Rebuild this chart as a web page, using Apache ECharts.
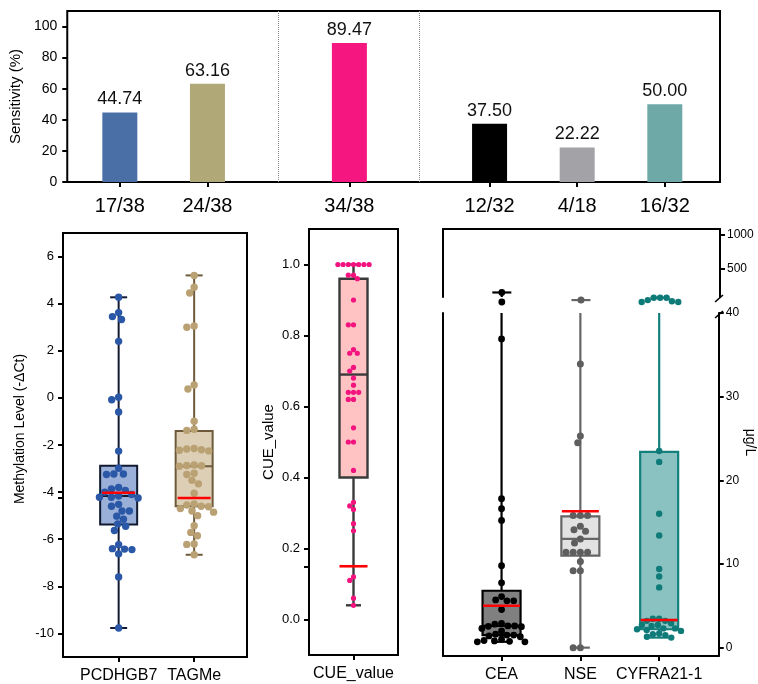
<!DOCTYPE html>
<html>
<head>
<meta charset="utf-8">
<script src="https://cdn.jsdelivr.net/npm/echarts@6/dist/echarts.min.js"></script>
<style>html,body{margin:0;padding:0;background:#fff}#c{width:758px;height:684px}</style>
</head>
<body>
<div id="c"></div>
<script>
// ================= DATA =================
// Top panel: sensitivity
const barLabels = ['17/38', '24/38', '34/38', '12/32', '4/18', '16/32'];
const barValues = [44.74, 63.16, 89.47, 37.50, 22.22, 50.00];
const barPos = [1, 2, 3.62, 5.22, 6.22, 7.22];
const sensTicks = [0, 20, 40, 60, 80, 100];

// Methylation level (-ΔCt)
const methCats = ['PCDHGB7', 'TAGMe'];
const pcdhgb7Values = [4.27, 3.62, 3.45, 3.33, 2.40, 0.03, -0.08, -0.60, -2.26, -2.99,
  -3.23, -3.23, -3.25, -3.80, -3.87, -3.93, -4.00, -4.10, -4.17, -4.22,
  -4.22, -4.25, -4.52, -4.60, -4.80, -4.80, -5.02, -5.15, -5.35, -5.45,
  -5.63, -6.23, -6.40, -6.42, -6.44, -6.62, -7.60, -9.77];
const tagmeValues = [5.20, 4.70, 4.45, 3.05, 3.00, 0.55, 0.38, -0.99, -1.33, -1.38,
  -2.15, -2.17, -2.20, -2.22, -2.25, -2.85, -2.87, -2.88, -2.90, -3.20,
  -3.25, -3.50, -3.65, -4.05, -4.50, -4.55, -4.60, -4.62, -4.70, -4.80,
  -4.85, -5.00, -5.43, -5.71, -5.85, -6.20, -6.22, -6.66];
const methBoxStats = [[-9.77, -5.38, -4.17, -2.88, 4.27], [-6.66, -4.60, -2.90, -1.41, 5.20]]; // min,Q1,median,Q3,max
const methCutoffs = [-4.03, -4.25];
const methTicks = [-10, -8, -6, -4, -2, 0, 2, 4, 6];
const methExtraTicks = [-4.25];

// CUE value
const cueCats = ['CUE_value'];
const cueValues = [1.00, 1.00, 1.00, 1.00, 1.00, 1.00, 1.00, 0.97, 0.97, 0.96,
  0.90, 0.83, 0.83, 0.76, 0.75, 0.75, 0.71, 0.70, 0.68, 0.66,
  0.64, 0.64, 0.64, 0.62, 0.62, 0.54, 0.50, 0.50, 0.42, 0.33,
  0.32, 0.31, 0.27, 0.25, 0.12, 0.11, 0.06, 0.04];
const cueBoxStats = [[0.04, 0.40, 0.69, 0.96, 1.00]];
const cueCutoffs = [0.15];
const cueTicks = [0, 0.2, 0.4, 0.6, 0.8, 1.0];
const cueExtraTicks = [0.15];

// Tumour markers (μg/L)
const tmCats = ['CEA', 'NSE', 'CYFRA21-1'];
const ceaValues = [310, 256, 36.9, 17.8, 16.6, 15.2, 9.8, 7.75, 6.1, 5.7,
  5.6, 5.6, 4.55, 2.9, 2.8, 2.6, 2.6, 2.55, 2.5, 2.3,
  2.0, 1.6, 1.5, 1.5, 1.4, 1.3, 1.0, 0.85, 0.8, 0.75, 0.7, 0.7];
const nseValues = [266, 33.9, 25.3, 24.5, 15.8, 15.8, 15.8, 14.5, 14.1, 13.9,
  13.0, 12.5, 11.4, 11.4, 11.4, 11.4, 10.3, 9.2, 9.2, 0, 0];
const cyfraValues = [279, 256, 256, 260, 279, 266, 279, 23.5, 22.2, 16.0,
  13.4, 9.4, 8.5, 7.2, 3.45, 3.45, 3.2, 3.2, 2.9, 2.7,
  2.7, 2.6, 2.3, 2.3, 2.2, 2.1, 2.0, 1.7, 1.6, 1.5, 1.3, 1.2];
const tmBoxStats = [[0.70, 1.50, 2.60, 6.80, 310], [0, 11.0, 13.0, 15.7, 266], [1.2, 2.2, 3.25, 23.4, 279]];
const tmCutoffs = [5.0, 16.3, 3.3];
const tmTicksLow = [0, 10, 20, 30, 40];
const tmTicksHigh = [500, 1000];
const tmBreak = 40;       // top of lower segment
const tmHighRange = [283, 1113];

// ================= STYLE / LAYOUT =================
const FONT = '"Liberation Sans", Arial, Helvetica, sans-serif';
const barColors = ['#4a6fa6', '#b1a877', '#f5177f', '#000000', '#a3a2a7', '#6ea9a8'];
const methStyle = { fill: ['#9bb0d8', '#dccfb5'], stroke: ['#111a30', '#6e5a3b'], dot: ['#2b58a6', '#baa173'], r: [3.7, 3.7], d: [7.4, 7.4] };
const cueStyle = { fill: ['#ffc3c3'], stroke: ['#3a3a3a'], dot: ['#f3137f'], r: [2.6], d: [5.2] };
const tmStyle = { fill: ['#808080', '#e2e2e2', '#8ac2c1'], stroke: ['#000000', '#666666', '#14807e'], dot: ['#000000', '#5e5e5e', '#0f7b79'], r: [3.4, 3.5, 3.2], d: [6.8, 7.2, 6.4] };

const G = {
  bar:    { left: 63,  top: 11,  width: 657, height: 171 },
  meth:   { left: 63,  top: 233, width: 184, height: 424 },
  cue:    { left: 309, top: 229, width: 89,  height: 426 },
  tmLow:  { left: 443, top: 313, width: 277, height: 343 },
  tmHigh: { left: 443, top: 229, width: 277, height: 68 }
};
const LS = { color: '#000', width: 2 };
const lg = Math.log10;

function L(x1, y1, x2, y2, c, w) {
  return { type: 'line', shape: { x1, y1, x2, y2 }, style: { stroke: c, lineWidth: w } };
}

function boxRenderer(style, o) {
  return function (params, api) {
    const i = params.dataIndex;
    const cs = params.coordSys;
    const top = cs.y, bot = cs.y + cs.height;
    const inside = y => y >= top - 0.5 && y <= bot + 0.5;
    const clamp = y => Math.max(top, Math.min(bot, y));
    const x = api.value(0);
    const ys = [1, 2, 3, 4, 5].map(k => api.coord([x, api.value(k)])[1]);
    const cx = api.coord([x, api.value(1)])[0];
    const [yMin, yQ1, yMed, yQ3, yMax] = ys;
    const c = style.stroke[i], w = o.lw;
    const ch = [];
    ch.push(L(cx, clamp(yQ1), cx, clamp(yMin), c, w));
    ch.push(L(cx, clamp(yQ3), cx, clamp(yMax), c, w));
    if (inside(yMin)) ch.push(L(cx - o.cap / 2, yMin, cx + o.cap / 2, yMin, c, w));
    if (inside(yMax)) ch.push(L(cx - o.cap / 2, yMax, cx + o.cap / 2, yMax, c, w));
    ch.push({ type: 'rect', shape: { x: cx - o.box / 2, y: yQ3, width: o.box, height: yQ1 - yQ3 },
      style: { fill: style.fill[i], stroke: c, lineWidth: w } });
    ch.push(L(cx - o.box / 2, yMed, cx + o.box / 2, yMed, c, w));
    return { type: 'group', children: ch };
  };
}
function highWhiskerRenderer(style, o) {
  return function (params, api) {
    const i = params.dataIndex;
    const cs = params.coordSys;
    const bot = cs.y + cs.height;
    const pt = api.coord([api.value(0), api.value(1)]);
    const c = style.stroke[i];
    const ch = [];
    if (pt[1] < bot) ch.push(L(pt[0], bot, pt[0], pt[1], c, o.lw));
    ch.push(L(pt[0] - o.cap / 2, pt[1], pt[0] + o.cap / 2, pt[1], c, o.lw));
    return { type: 'group', children: ch };
  };
}
function cutoffRenderer(o) {
  return function (params, api) {
    const pt = api.coord([api.value(0), api.value(1)]);
    return L(pt[0] - o.w / 2, pt[1], pt[0] + o.w / 2, pt[1], '#ff0000', 2.6);
  };
}
function dotRenderer(style) {
  return function (params, api) {
    const pt = api.coord([api.value(0), api.value(1)]);
    const ci = api.value(3);
    return { type: 'circle', shape: { cx: pt[0] + api.value(2), cy: pt[1], r: style.r[ci] },
      style: { fill: style.dot[ci] } };
  };
}

function valueAxis(extra) {
  return Object.assign({
    type: 'value',
    axisLine: { show: false, onZero: false, lineStyle: LS },
    splitLine: { show: false },
    axisTick: { show: false },
    axisLabel: { show: false }
  }, extra);
}
function ticks(vals, len) {
  return { show: true, customValues: vals, length: len || 5, lineStyle: LS };
}
function labels(vals, size, margin, fmt) {
  const o = { show: true, customValues: vals, fontSize: size, color: '#000', margin: margin, fontFamily: FONT };
  if (fmt) o.formatter = fmt;
  return o;
}
const catIdx = cats => cats.map((_, i) => i + 1);

const sepLines = [(barPos[1] + barPos[2]) / 2, (barPos[2] + barPos[3]) / 2];

const option = {
  animation: false,
  backgroundColor: '#fff',
  textStyle: { fontFamily: FONT, color: '#000' },
  grid: [
    Object.assign({ show: true, borderColor: '#000', borderWidth: 2 }, G.bar),
    Object.assign({ show: true, borderColor: '#000', borderWidth: 2 }, G.meth),
    Object.assign({ show: true, borderColor: '#000', borderWidth: 2 }, G.cue),
    Object.assign({}, G.tmLow),
    Object.assign({}, G.tmHigh)
  ],
  xAxis: [
    valueAxis({ gridIndex: 0, min: 0.4, max: 7.85, axisTick: ticks(barPos),
      axisLabel: labels(barPos, 20, 14, v => barLabels[barPos.findIndex(p => Math.abs(p - v) < 1e-6)]) }),
    valueAxis({ gridIndex: 1, min: 0.263, max: 2.70, axisTick: ticks(catIdx(methCats)),
      axisLabel: labels(catIdx(methCats), 16, 11, v => methCats[Math.round(v) - 1]) }),
    valueAxis({ gridIndex: 2, min: 0, max: 2, axisTick: ticks(catIdx(cueCats)),
      axisLabel: labels(catIdx(cueCats), 16, 11, v => cueCats[Math.round(v) - 1]) }),
    valueAxis({ gridIndex: 3, min: 0.257, max: 3.756, axisLine: { show: true, onZero: false, lineStyle: LS },
      axisTick: ticks(catIdx(tmCats)), axisLabel: labels(catIdx(tmCats), 16, 11, v => tmCats[Math.round(v) - 1]) }),
    valueAxis({ gridIndex: 4, min: 0.257, max: 3.756, position: 'top', axisLine: { show: true, onZero: false, lineStyle: LS } })
  ],
  yAxis: [
    valueAxis({ gridIndex: 0, min: 0, max: 110, axisTick: ticks(sensTicks), axisLabel: labels(sensTicks, 14, 10),
      name: 'Sensitivity (%)', nameLocation: 'middle', nameRotate: 90, nameGap: 36,
      nameTextStyle: { fontSize: 15, color: '#000', fontFamily: FONT } }),
    valueAxis({ gridIndex: 1, min: -11, max: 7, axisTick: ticks(methTicks.concat(methExtraTicks)),
      axisLabel: labels(methTicks, 13, 9),
      name: 'Methylation Level (-ΔCt)', nameLocation: 'middle', nameRotate: 90, nameGap: 36,
      nameTextStyle: { fontSize: 14, color: '#000', fontFamily: FONT, padding: [0, 0, 0, 32] } }),
    valueAxis({ gridIndex: 2, min: -0.1, max: 1.1, axisTick: ticks(cueTicks.concat(cueExtraTicks)),
      axisLabel: labels(cueTicks, 13, 9, v => v.toFixed(1)),
      name: 'CUE_value', nameLocation: 'middle', nameRotate: 90, nameGap: 33,
      nameTextStyle: { fontSize: 15, color: '#000', fontFamily: FONT } }),
    valueAxis({ gridIndex: 3, position: 'right', min: -1, max: tmBreak, axisLine: { show: true, onZero: false, lineStyle: LS },
      axisTick: ticks(tmTicksLow), axisLabel: labels(tmTicksLow, 12, 7),
      name: 'μg/L', nameLocation: 'middle', nameRotate: -90, nameGap: 24,
      nameTextStyle: { fontSize: 14, color: '#000', fontFamily: FONT, padding: [0, 84, 0, 0] } }),
    valueAxis({ gridIndex: 3, position: 'left', min: 0, max: 1, axisLine: { show: true, onZero: false, lineStyle: LS } }),
    valueAxis({ gridIndex: 4, position: 'right', min: lg(tmHighRange[0]), max: lg(tmHighRange[1]),
      axisLine: { show: true, onZero: false, lineStyle: LS },
      axisTick: ticks(tmTicksHigh.map(lg)), axisLabel: labels(tmTicksHigh.map(lg), 12, 7, v => String(Math.round(Math.pow(10, v)))) }),
    valueAxis({ gridIndex: 4, position: 'left', min: 0, max: 1, axisLine: { show: true, onZero: false, lineStyle: LS } })
  ],
  graphic: [
    { type: 'line', shape: { x1: G.tmHigh.left + G.tmHigh.width - 5, y1: G.tmHigh.top + G.tmHigh.height + 5,
        x2: G.tmHigh.left + G.tmHigh.width + 3, y2: G.tmHigh.top + G.tmHigh.height - 2 }, style: { stroke: '#000', lineWidth: 1.6 } },
    { type: 'line', shape: { x1: G.tmLow.left + G.tmLow.width - 5, y1: G.tmLow.top + 5,
        x2: G.tmLow.left + G.tmLow.width + 3, y2: G.tmLow.top - 2 }, style: { stroke: '#000', lineWidth: 1.6 } }
  ],
  series: [
    { type: 'bar', xAxisIndex: 0, yAxisIndex: 0, barWidth: 35,
      data: barPos.map((p, i) => ({ value: [p, barValues[i]], itemStyle: { color: barColors[i] } })),
      label: { show: true, position: 'top', distance: 4, fontSize: 18, color: '#111', fontFamily: FONT,
        formatter: p => p.value[1].toFixed(2) },
      markLine: { silent: true, symbol: ['none', 'none'], label: { show: false },
        lineStyle: { type: 'dotted', color: '#888', width: 1 },
        data: sepLines.map(v => ({ xAxis: v })) } },

    { id: 'methBox', type: 'custom', xAxisIndex: 1, yAxisIndex: 1, z: 2,
      renderItem: boxRenderer(methStyle, { box: 37, cap: 17, lw: 2 }),
      data: methBoxStats.map((s, i) => [i + 1].concat(s)) },
    { id: 'methDots', type: 'custom', xAxisIndex: 1, yAxisIndex: 1, z: 3,
      renderItem: dotRenderer(methStyle), data: [] },
    { id: 'methCut', type: 'custom', xAxisIndex: 1, yAxisIndex: 1, z: 4,
      renderItem: cutoffRenderer({ w: 33 }), data: methCutoffs.map((c, i) => [i + 1, c]) },

    { id: 'cueBox', type: 'custom', xAxisIndex: 2, yAxisIndex: 2, z: 2,
      renderItem: boxRenderer(cueStyle, { box: 28, cap: 15, lw: 2.4 }),
      data: cueBoxStats.map((s, i) => [i + 1].concat(s)) },
    { id: 'cueDots', type: 'custom', xAxisIndex: 2, yAxisIndex: 2, z: 3,
      renderItem: dotRenderer(cueStyle), data: [] },
    { id: 'cueCut', type: 'custom', xAxisIndex: 2, yAxisIndex: 2, z: 4,
      renderItem: cutoffRenderer({ w: 28 }), data: cueCutoffs.map((c, i) => [i + 1, c]) },

    { id: 'tmBox', type: 'custom', xAxisIndex: 3, yAxisIndex: 3, z: 2,
      renderItem: boxRenderer(tmStyle, { box: 38, cap: 19, lw: 2.2 }),
      data: tmBoxStats.map((s, i) => [i + 1].concat(s)) },
    { id: 'tmDots', type: 'custom', xAxisIndex: 3, yAxisIndex: 3, z: 3,
      renderItem: dotRenderer(tmStyle), data: [] },
    { id: 'tmCut', type: 'custom', xAxisIndex: 3, yAxisIndex: 3, z: 4,
      renderItem: cutoffRenderer({ w: 37 }), data: tmCutoffs.map((c, i) => [i + 1, c]) },
    { id: 'tmHighWhisker', type: 'custom', xAxisIndex: 4, yAxisIndex: 5, z: 2,
      renderItem: highWhiskerRenderer(tmStyle, { cap: 19, lw: 2.2 }),
      data: tmBoxStats.map((s, i) => [i + 1, lg(s[4])]) },
    { id: 'tmHighDots', type: 'custom', xAxisIndex: 4, yAxisIndex: 5, z: 3,
      renderItem: dotRenderer(tmStyle), data: [] }
  ]
};

const chart = echarts.init(document.getElementById('c'));
chart.setOption(option);

// ---- bee-swarm arrangement of dots (pixel space) ----
function swarm(ys, d) {
  const order = ys.map((_, i) => i).sort((a, b) => ys[a] - ys[b]);
  const placed = [];
  const out = new Array(ys.length).fill(0);
  order.forEach(i => {
    const y = ys[i];
    const near = placed.filter(p => Math.abs(p.y - y) < d);
    const cands = [0];
    near.forEach(p => {
      const dx = Math.sqrt(Math.max(0, d * d - (p.y - y) * (p.y - y)));
      cands.push(p.x + dx, p.x - dx);
    });
    cands.sort((a, b) => (Math.abs(a) - Math.abs(b)) || (a - b));
    let chosen = cands[cands.length - 1];
    for (const c of cands) {
      if (near.every(p => (p.x - c) * (p.x - c) + (p.y - y) * (p.y - y) >= d * d - 0.01)) { chosen = c; break; }
    }
    placed.push({ x: chosen, y });
    out[i] = chosen;
  });
  return out;
}
function dotData(groups, xi, yi, keep, tf, style) {
  const res = [];
  groups.forEach((vals, gi) => {
    const vs = vals.filter(keep).map(tf);
    const ys = vs.map(v => chart.convertToPixel({ xAxisIndex: xi, yAxisIndex: yi }, [gi + 1, v])[1]);
    const dx = swarm(ys, style.d[gi]);
    vs.forEach((v, k) => res.push([gi + 1, v, dx[k], gi]));
  });
  return res;
}
const id = v => v;
const tmGroups = [ceaValues, nseValues, cyfraValues];
chart.setOption({
  series: [
    { id: 'methDots', data: dotData([pcdhgb7Values, tagmeValues], 1, 1, () => true, id, methStyle) },
    { id: 'cueDots', data: dotData([cueValues], 2, 2, () => true, id, cueStyle) },
    { id: 'tmDots', data: dotData(tmGroups, 3, 3, v => v <= tmBreak, id, tmStyle) },
    { id: 'tmHighDots', data: dotData(tmGroups, 4, 5, v => v > tmBreak, lg, tmStyle) }
  ]
});
</script>
</body>
</html>
